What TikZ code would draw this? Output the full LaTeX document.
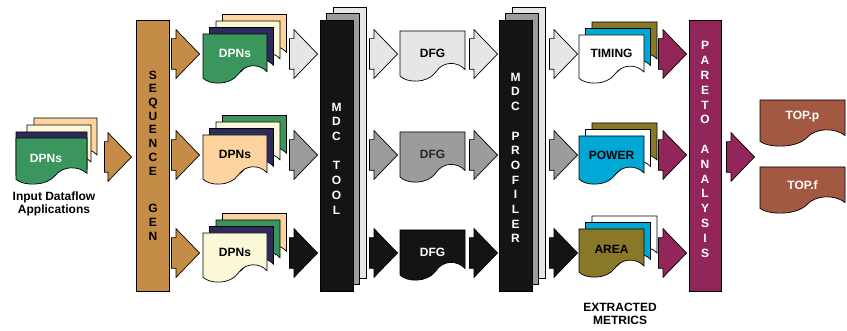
\documentclass[tikz,border=0pt]{standalone}
\usepackage{fontspec}
\setmainfont{Liberation Sans}
\usetikzlibrary{shapes.arrows, positioning}

\definecolor{ochre}{RGB}{196,140,70}
\definecolor{dpngreen}{RGB}{58,150,92}
\definecolor{dpnnavy}{RGB}{45,42,92}
\definecolor{dpncream}{RGB}{250,248,215}
\definecolor{dpnpeach}{RGB}{253,212,160}
\definecolor{flowlight}{RGB}{230,230,230}
\definecolor{flowgray}{RGB}{156,156,156}
\definecolor{flowblack}{RGB}{20,20,20}
\definecolor{metcyan}{RGB}{0,168,214}
\definecolor{metolive}{RGB}{138,120,42}
\definecolor{paretored}{RGB}{146,38,90}
\definecolor{topbrown}{RGB}{163,88,65}

\tikzset{
  docline/.style={draw=black, line width=0.7pt},
  blockarrow/.style={single arrow, draw=black, line width=0.7pt, minimum height=28pt,
    minimum width=48pt, single arrow head extend=9pt, single arrow tip angle=92,
    inner xsep=0pt, inner ysep=15pt, anchor=tip},
  bar/.style={draw=black, line width=0.7pt, minimum width=33pt, minimum height=271pt, inner sep=0pt},
  bartext/.style={font=\bfseries\fontsize{12}{14.7}\selectfont, align=center, inner sep=0pt},
  doclabel/.style={font=\bfseries\fontsize{12}{13}\selectfont, align=center, inner sep=0pt}
}

% document shape: x, y (top left), width, height, fill
\newcommand{\docshape}[5]{%
  \draw[docline, fill=#5] (#1,#2) -- ({#1+#3},#2) -- ({#1+#3},{#2+0.77*#4})
    .. controls ({#1+0.88*#3},{#2+0.6*#4}) and ({#1+0.66*#3},{#2+0.6*#4}) .. ({#1+0.55*#3},{#2+0.82*#4})
    .. controls ({#1+0.42*#3},{#2+1.06*#4}) and ({#1+0.1*#3},{#2+1.04*#4}) .. (#1,{#2+0.9*#4}) -- cycle;}

\begin{document}
\begin{tikzpicture}[x=1pt, y=-1pt]
    \useasboundingbox (0,0) rectangle (847,331);

    % input applications
    \docshape{34}{118}{63}{48}{dpnpeach}
    \docshape{27}{125}{64}{48}{dpncream}
    \docshape{16}{132}{71}{48}{dpnnavy}
    \docshape{16}{138}{71}{46}{dpngreen}
    \node[doclabel, text=white] (dpnsin) at (46,158) {DPNs};
    \node[doclabel] (inputlbl) at (54,204) {Input Dataflow\\Applications};
    \node[blockarrow, fill=ochre, minimum height=27pt] (arrin) at (132,157) {};

    % sequence generator
    \node[bar, fill=ochre] (seqgen) at (153,155.5) {};
    \node[bartext, font=\bfseries\fontsize{12}{13.7}\selectfont] (seqtxt) at (153,155.5)
        {S\\E\\Q\\U\\E\\N\\C\\E\\[24pt]G\\E\\N};

    \node[blockarrow, fill=ochre] (arrseqA) at (200,54) {};
    \node[blockarrow, fill=ochre] (arrseqB) at (200,155) {};
    \node[blockarrow, fill=ochre] (arrseqC) at (200,253) {};

    % DPN stacks
    \docshape{222.5}{14.5}{64}{49}{dpnpeach}
    \docshape{216}{21}{64}{49}{dpncream}
    \docshape{209.5}{27.5}{64}{49}{dpnnavy}
    \docshape{203}{34}{64}{49}{dpngreen}
    \node[doclabel, text=white] (dpnsA) at (235,53) {DPNs};

    \docshape{222.5}{115.5}{64}{49}{dpngreen}
    \docshape{216}{122}{64}{49}{dpncream}
    \docshape{209.5}{128.5}{64}{49}{dpnnavy}
    \docshape{203}{135}{64}{49}{dpnpeach}
    \node[doclabel] (dpnsB) at (235,154) {DPNs};

    \docshape{222.5}{213.5}{64}{49}{dpnpeach}
    \docshape{216}{220}{64}{49}{dpngreen}
    \docshape{209.5}{226.5}{64}{49}{dpnnavy}
    \docshape{203}{233}{64}{49}{dpncream}
    \node[doclabel] (dpnsC) at (235,252) {DPNs};

    \node[blockarrow, fill=flowlight] (arrdpnA) at (318,54) {};
    \node[blockarrow, fill=flowgray] (arrdpnB) at (318,155) {};
    \node[blockarrow, fill=flowblack] (arrdpnC) at (318,253) {};

    % MDC tool
    \node[bar, fill=flowlight] (mdcback) at (349.5,142.5) {};
    \node[bar, fill=flowgray] (mdcmid) at (343,149) {};
    \node[bar, fill=flowblack] (mdctool) at (336.5,155.5) {};
    \node[bartext, text=white] (mdctxt) at (336.5,158.5) {M\\D\\C\\[14.7pt]T\\O\\O\\L};

    \node[blockarrow, fill=flowlight] (arrmdcA) at (398,54) {};
    \node[blockarrow, fill=flowgray] (arrmdcB) at (398,155) {};
    \node[blockarrow, fill=flowblack] (arrmdcC) at (398,253) {};

    % dataflow graphs
    \docshape{400}{31}{65}{50}{flowlight}
    \node[doclabel] (dfgA) at (432.5,53) {DFG};
    \docshape{400}{132}{65}{50}{flowgray}
    \node[doclabel, text=black!85] (dfgB) at (432.5,154) {DFG};
    \docshape{400}{230}{65}{50}{flowblack}
    \node[doclabel, text=white] (dfgC) at (432.5,252) {DFG};

    \node[blockarrow, fill=flowlight] (arrdfgA) at (498,54) {};
    \node[blockarrow, fill=flowgray] (arrdfgB) at (498,155) {};
    \node[blockarrow, fill=flowblack] (arrdfgC) at (498,253) {};

    % MDC profiler
    \node[bar, fill=flowlight] (profback) at (528.5,142.5) {};
    \node[bar, fill=flowgray] (profmid) at (522,149) {};
    \node[bar, fill=flowblack] (mdcprof) at (515.5,155.5) {};
    \node[bartext, text=white] (proftxt) at (515.5,158) {M\\D\\C\\[14.7pt]P\\R\\O\\F\\I\\L\\E\\R};

    \node[blockarrow, fill=flowlight] (arrprofA) at (578,54) {};
    \node[blockarrow, fill=flowgray] (arrprofB) at (578,155) {};
    \node[blockarrow, fill=flowblack] (arrprofC) at (578,253) {};

    % extracted metrics
    \docshape{592}{22}{65}{48}{metolive}
    \docshape{585.5}{28.5}{65}{48}{metcyan}
    \docshape{579}{35}{65}{48}{white}
    \node[doclabel] (timing) at (611.5,53) {TIMING};

    \docshape{592}{123}{65}{48}{metolive}
    \docshape{585.5}{129.5}{65}{48}{white}
    \docshape{579}{136}{65}{48}{metcyan}
    \node[doclabel] (power) at (611.5,155) {POWER};

    \docshape{592}{216}{65}{48}{white}
    \docshape{585.5}{222.5}{65}{48}{metcyan}
    \docshape{579}{229}{65}{48}{metolive}
    \node[doclabel] (area) at (611.5,249) {AREA};

    \node[doclabel] (metrics) at (620,314) {EXTRACTED\\METRICS};

    \node[blockarrow, fill=paretored] (arrmetA) at (687,54) {};
    \node[blockarrow, fill=paretored] (arrmetB) at (687,155) {};
    \node[blockarrow, fill=paretored] (arrmetC) at (687,253) {};

    % pareto analysis
    \node[bar, fill=paretored, minimum width=32pt] (pareto) at (705,156) {};
    \node[bartext, text=white, font=\bfseries\fontsize{12}{14.8}\selectfont] (paretotxt) at (705,149.5)
        {P\\A\\R\\E\\T\\O\\[14.8pt]A\\N\\A\\L\\Y\\S\\I\\S};

    \node[blockarrow, fill=paretored] (arrpareto) at (755,157) {};

    % selected points
    \docshape{760}{100}{85}{46}{topbrown}
    \node[doclabel, text=white] (topp) at (802.5,117) {TOP.p};
    \docshape{760}{167}{85}{46}{topbrown}
    \node[doclabel, text=white] (topf) at (802.5,185) {TOP.f};
\end{tikzpicture}
\end{document}
